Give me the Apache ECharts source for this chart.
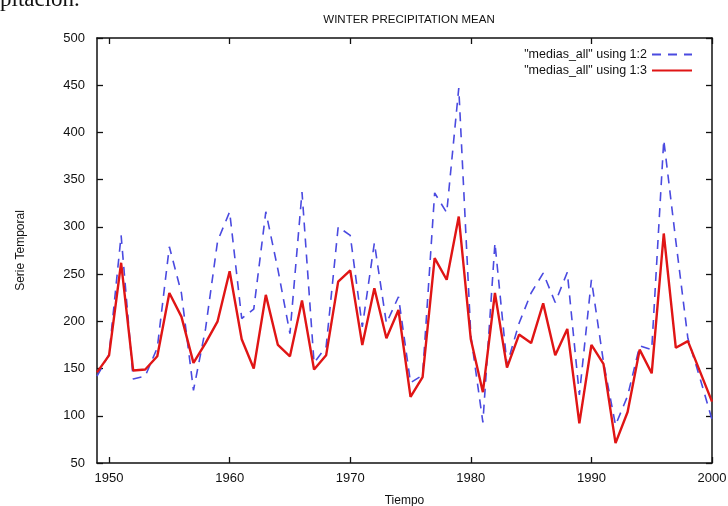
<!DOCTYPE html>
<html>
<head>
<meta charset="utf-8">
<script src="https://cdn.jsdelivr.net/npm/echarts@6/dist/echarts.min.js"></script>
<style>html,body{margin:0;padding:0;background:#fff;}#c{width:728px;height:506px;}</style>
</head>
<body>
<div id="c"></div>
<script>
const years = [1949,1950,1951,1952,1953,1954,1955,1956,1957,1958,1959,1960,1961,1962,1963,1964,1965,1966,1967,1968,1969,1970,1971,1972,1973,1974,1975,1976,1977,1978,1979,1980,1981,1982,1983,1984,1985,1986,1987,1988,1989,1990,1991,1992,1993,1994,1995,1996,1997,1998,1999,2000];
const col2 = [142,165,291,139,142,172,279,230,127,192,285,316,203,213,316,255,187,337,156,173,300,291,194,283,198,226,135,143,336,315,447,185,93,283,154,198,230,251,220,252,122,244,157,90,121,174,170,392,285,182,140,96];
const col3 = [146,164,262,148,149,163,230,205,156,177,200,253,181,150,228,175,163,222,149,164,242,254,175,235,182,212,120,141,267,244,311,181,125,230,151,186,177,219,164,192,92,175,155,71,104,170,145,293,172,179,147,115];
const xTicks = [1950,1960,1970,1980,1990,2000];
const seriesNames = ['"medias_all" using 1:2', '"medias_all" using 1:3'];
const titleText = 'WINTER PRECIPITATION MEAN';

const font = 'Liberation Sans, Arial, sans-serif';
const chart = echarts.init(document.getElementById('c'), null, {renderer: 'canvas'});
const axisLine = {show: true, lineStyle: {color: '#111', width: 1.5}};
const tick = {show: true, inside: true, length: 6, lineStyle: {color: '#111', width: 1.3}};
chart.setOption({
  animation: false,
  backgroundColor: '#fff',
  title: {text: titleText, left: 404, textAlign: 'center', top: 9, itemGap: 0,
    textStyle: {fontFamily: font, fontSize: 11.5, fontWeight: 'normal', color: '#111'}},
  graphic: [{type: 'text', left: 0, top: -12, style: {text: 'pitación.', font: '23px "Liberation Serif", serif', fill: '#111'}}],
  legend: {orient: 'vertical', right: 30, top: 43, align: 'right', itemWidth: 40, itemHeight: 10, itemGap: 3,
    textStyle: {fontFamily: font, fontSize: 12.5, color: '#111'},
    itemStyle: {opacity: 0},
    data: seriesNames},
  grid: {left: 97, right: 16, top: 38, bottom: 43, containLabel: false, outerBoundsMode: 'none'},
  xAxis: [{
    type: 'value', min: 1949, max: 2000, name: 'Tiempo', nameLocation: 'middle', nameGap: 32,
    nameTextStyle: {fontFamily: font, fontSize: 12, color: '#111'},
    axisLine: axisLine,
    axisTick: Object.assign({}, tick, {customValues: xTicks}),
    axisLabel: {customValues: xTicks, formatter: v => String(v), fontFamily: font, fontSize: 13, color: '#111', margin: 9},
    splitLine: {show: false}
  }, {
    type: 'value', position: 'top', min: 1949, max: 2000,
    axisLine: axisLine,
    axisTick: Object.assign({}, tick, {customValues: xTicks}),
    axisLabel: {show: false},
    splitLine: {show: false}
  }],
  yAxis: [{
    type: 'value', min: 50, max: 500, interval: 50, name: 'Serie Temporal', nameLocation: 'middle', nameGap: 70,
    nameTextStyle: {fontFamily: font, fontSize: 12, color: '#111'},
    axisLine: axisLine, axisTick: tick,
    axisLabel: {fontFamily: font, fontSize: 13, color: '#111', margin: 12},
    splitLine: {show: false}
  }, {
    type: 'value', position: 'right', min: 50, max: 500, interval: 50,
    axisLine: axisLine, axisTick: tick, axisLabel: {show: false}, splitLine: {show: false}
  }],
  series: [{
    name: seriesNames[0], type: 'line', symbol: 'none', xAxisIndex: 0, yAxisIndex: 0,
    data: years.map((y, i) => [y, col2[i]]),
    lineStyle: {color: '#4a4ae0', width: 1.6, type: [9, 7]},
    itemStyle: {color: '#4a4ae0'}, z: 2
  }, {
    name: seriesNames[1], type: 'line', symbol: 'none', xAxisIndex: 0, yAxisIndex: 0,
    data: years.map((y, i) => [y, col3[i]]),
    lineStyle: {color: '#e01515', width: 2.4},
    itemStyle: {color: '#e01515'}, z: 3
  }]
});
</script>
</body>
</html>
